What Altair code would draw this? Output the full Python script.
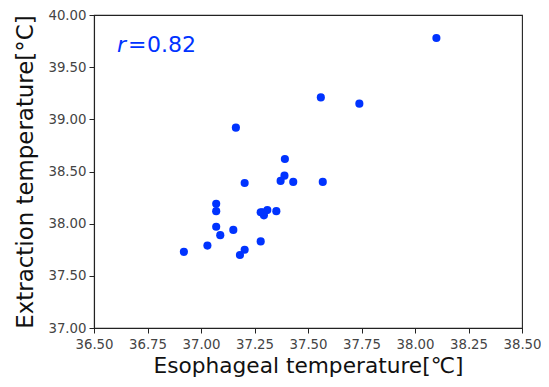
import altair as alt
import pandas as pd

esophageal = [38.10, 37.56, 37.74, 37.163, 37.392, 37.39, 37.372, 37.431, 37.569,
              37.204, 37.071, 37.071, 37.279, 37.294, 37.31, 37.287, 37.352,
              37.071, 37.151, 37.09, 37.279, 37.03, 36.92, 37.204, 37.182]
extraction = [39.78, 39.21, 39.15, 38.92, 38.62, 38.46, 38.41, 38.40, 38.40,
              38.39, 38.19, 38.12, 38.11, 38.08, 38.13, 38.11, 38.12,
              37.97, 37.94, 37.89, 37.83, 37.79, 37.73, 37.75, 37.70]

x_ticks = [36.5, 36.75, 37.0, 37.25, 37.5, 37.75, 38.0, 38.25, 38.5]
y_ticks = [37.0, 37.5, 38.0, 38.5, 39.0, 39.5, 40.0]
r_value = "0.82"

df = pd.DataFrame({"eso": esophageal, "ext": extraction})

BLUE = "#0033ff"

points = alt.Chart(df).mark_circle(size=66, opacity=1, color=BLUE).encode(
    x=alt.X("eso:Q",
            scale=alt.Scale(domain=[36.5, 38.5], nice=False, zero=False),
            axis=alt.Axis(values=x_ticks, format=".2f",
                          title="Esophageal temperature[℃]",
                          titleFontSize=21.7)),
    y=alt.Y("ext:Q",
            scale=alt.Scale(domain=[37.0, 40.0], nice=False, zero=False),
            axis=alt.Axis(values=y_ticks, format=".2f",
                          title="Extraction temperature[°C]",
                          titleFontSize=22.9)),
)

ann = pd.DataFrame({"r": ["r"], "eq": ["="], "v": [r_value]})
r_text = alt.Chart(ann).mark_text(
    font="DejaVu Sans", fontSize=22, fontStyle="italic", color=BLUE,
    align="left", baseline="middle"
).encode(x=alt.value(23), y=alt.value(30), text="r:N")
eq_text = alt.Chart(ann).mark_text(
    font="DejaVu Sans", fontSize=22, color=BLUE,
    align="left", baseline="middle"
).encode(x=alt.value(34), y=alt.value(30), text="eq:N")
v_text = alt.Chart(ann).mark_text(
    font="DejaVu Sans", fontSize=22, color=BLUE,
    align="left", baseline="middle"
).encode(x=alt.value(53), y=alt.value(30), text="v:N")

chart = alt.layer(points, r_text, eq_text, v_text).properties(
    width=428, height=313,
    autosize=alt.AutoSizeParams(type="none"),
    padding={"left": 86, "top": 7, "right": 19, "bottom": 51},
    background="white",
).configure_view(
    stroke="#222", strokeWidth=1.1
).configure_axis(
    grid=False,
    domainColor="#222",
    domainWidth=1.1,
    tickColor="#222",
    tickSize=5,
    labelFont="DejaVu Sans",
    labelFontSize=13.3,
    labelColor="#444",
    labelFlush=False,
    labelOverlap=False,
    titleFont="DejaVu Sans",
    titleFontWeight="normal",
    titleColor="#111",
).configure_axisX(
    labelPadding=4, titlePadding=5
).configure_axisY(
    labelPadding=3, titlePadding=10
)

chart.save("out.html", embed_options={"renderer": "svg", "actions": False})
